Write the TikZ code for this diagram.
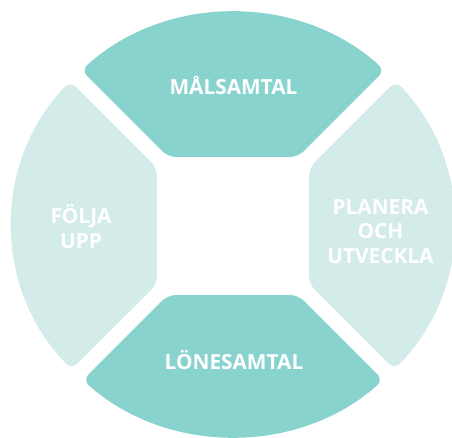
\documentclass[tikz,border=0pt]{standalone}
\usepackage{fontspec}
\setmainfont{Open Sans}
\definecolor{segdark}{HTML}{88D3CE}
\definecolor{seglight}{HTML}{D3ECEA}
\begin{document}
\begin{tikzpicture}[x=1pt,y=-1pt,
  seg/.style={rounded corners=8pt},
  lbl/.style={text=white,font=\fontsize{20.8}{24.6}\selectfont\bfseries,align=center,anchor=base,inner sep=0pt}]
\useasboundingbox (0,0) rectangle (452,438);
\def\cx{233}\def\cy{224.5}\def\rx{221}\def\ry{212}
% top segment
\fill[segdark,seg] (233,157) -- (168,157) -- ({\cx+\rx*cos(226.7)},{\cy+\ry*sin(226.7)})
  arc[start angle=226.7,end angle=313.3,x radius=\rx,y radius=\ry] -- (298,157) -- cycle;
% left segment
\fill[seglight,seg] (157,226) -- (157,168) -- ({\cx+\rx*cos(222.55)},{\cy+\ry*sin(222.55)})
  arc[start angle=222.55,end angle=136.9,x radius=\rx,y radius=\ry] -- (157,284) -- cycle;
% right segment
\fill[seglight,seg] (309,226) -- (309,168) -- ({\cx+\rx*cos(-42.55)},{\cy+\ry*sin(-42.55)})
  arc[start angle=-42.55,end angle=43.1,x radius=\rx,y radius=\ry] -- (309,284) -- cycle;
% bottom segment
\fill[segdark,seg] (233,295) -- (168,295) -- ({\cx+\rx*cos(132.8)},{\cy+\ry*sin(132.8)})
  arc[start angle=132.8,end angle=47.2,x radius=\rx,y radius=\ry] -- (298,295) -- cycle;
% labels
\node[lbl] (mal) at (233.5,94.3) {MÅLSAMTAL};
\node[lbl] (lon) at (234,369.3) {LÖNESAMTAL};
\node[lbl] (folj) at (81,248.6) {FÖLJA\\UPP};
\node[lbl] (plan) at (380.5,263.2) {PLANERA\\OCH\\UTVECKLA};
\end{tikzpicture}
\end{document}
